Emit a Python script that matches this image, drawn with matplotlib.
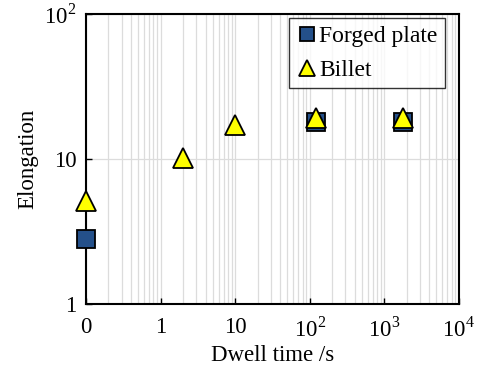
import numpy as np
import matplotlib
matplotlib.use("Agg")
import matplotlib.pyplot as plt
from matplotlib.ticker import FixedLocator, NullFormatter

plt.rcParams['font.family'] = ['Liberation Serif', 'DejaVu Serif']
plt.rcParams['mathtext.fontset'] = 'custom'
plt.rcParams['mathtext.rm'] = 'Liberation Serif'

# dwell time 0 is drawn at the position of 0.1 on the log axis
ZERO_POS = 0.1

forged_time = [0, 120, 1800]
forged_elong = [2.8, 18.0, 18.0]

billet_time = [0, 2, 10, 120, 1800]
billet_elong = [5.1, 10.1, 17.1, 19.2, 19.3]

xtick_vals = [ZERO_POS, 1, 10, 100, 1000, 10000]
xtick_labels = ['0', '1', '10', '10$^2$', '10$^3$', '10$^4$']
ytick_vals = [1, 10, 100]
ytick_labels = ['1', '10', '10$^2$']


def to_pos(t):
    return [ZERO_POS if v == 0 else v for v in t]


fig = plt.figure(figsize=(4.78, 3.65), dpi=100)
ax = fig.add_axes([0.18, 0.167, 0.78, 0.795])

ax.plot(to_pos(forged_time), forged_elong, 's', ms=13, mfc='#24508a',
        mec='black', mew=1.3, label='Forged plate', clip_on=False, zorder=3)
ax.plot(to_pos(billet_time), billet_elong, '^', ms=14, mfc='#ffff00',
        mec='black', mew=1.3, label='Billet', clip_on=False, zorder=4)

ax.set_xscale('log')
ax.set_yscale('log')
ax.set_xlim(ZERO_POS, 1e4)
ax.set_ylim(1, 100)

ax.set_xticks(xtick_vals)
ax.set_xticklabels(xtick_labels)
minor = [m * 10.0 ** e for e in range(-1, 4) for m in range(2, 10)]
ax.xaxis.set_minor_locator(FixedLocator(minor))
ax.xaxis.set_minor_formatter(NullFormatter())
ax.set_yticks(ytick_vals)
ax.set_yticklabels(ytick_labels)
ax.yaxis.set_minor_locator(FixedLocator([]))

ax.grid(True, axis='x', which='both', color='#dcdcdc', lw=0.9)
ax.grid(True, axis='y', which='major', color='#dcdcdc', lw=0.9)
ax.set_axisbelow(True)

ax.tick_params(axis='both', which='major', direction='in', length=4,
               width=1, labelsize=16.5)
ax.tick_params(axis='x', which='major', pad=9)
ax.tick_params(axis='y', which='major', pad=7)
ax.tick_params(axis='x', which='minor', length=0)
for s in ax.spines.values():
    s.set_linewidth(1.5)

ax.set_xlabel('Dwell time /s', fontsize=16.5, labelpad=3)
ax.set_ylabel('Elongation', fontsize=16.5, labelpad=4)

leg = ax.legend(loc='upper right', bbox_to_anchor=(0.962, 0.985), fontsize=17,
                frameon=True, fancybox=False, edgecolor='black',
                handletextpad=0.0, handlelength=1.0, borderpad=0.3,
                labelspacing=0.55, borderaxespad=0.0, markerscale=0.8)
leg.get_frame().set_linewidth(1.0)

fig.savefig('out.png', dpi=100)
